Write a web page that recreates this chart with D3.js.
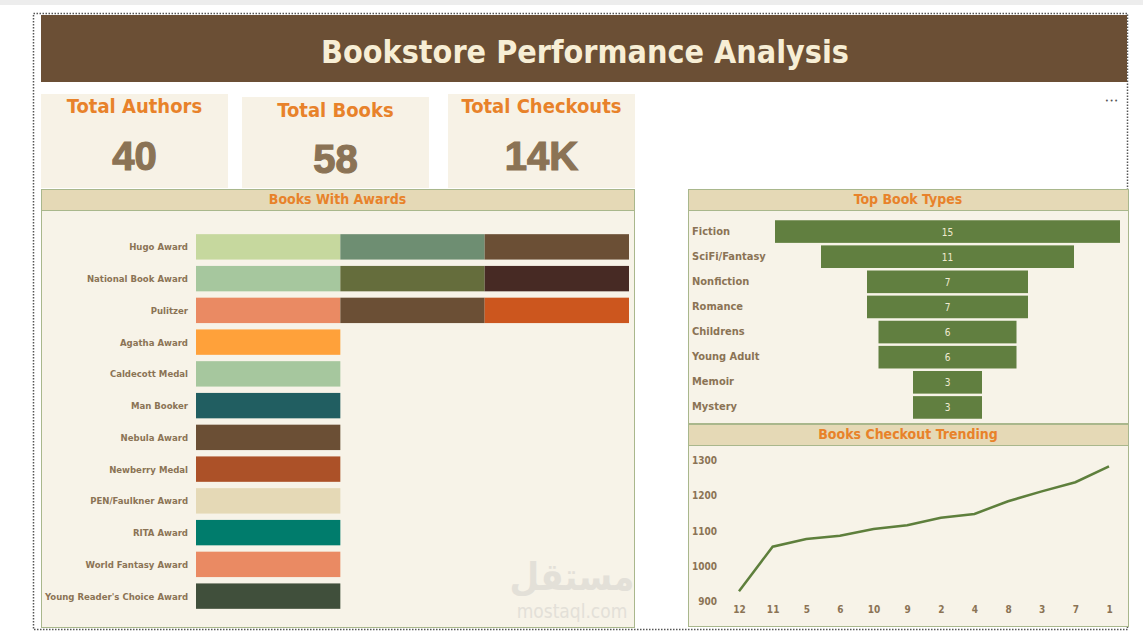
<!DOCTYPE html>
<html>
<head>
<meta charset="utf-8">
<script src="https://cdn.jsdelivr.net/npm/d3@7"></script>
<style>
  body { margin: 0; background: #fff; }
  svg text { font-family: "DejaVu Sans Condensed", "DejaVu Sans", sans-serif; }
</style>
</head>
<body>
<svg id="vis" width="1143" height="635"></svg>
<script>
// kpi cards
var kpiTitles = ["Total Authors", "Total Books", "Total Checkouts"];
var kpiValues = ["40", "58", "14K"];

// books with awards (one segment per book)
var awards = ["Hugo Award", "National Book Award", "Pulitzer", "Agatha Award", "Caldecott Medal",
  "Man Booker", "Nebula Award", "Newberry Medal", "PEN/Faulkner Award", "RITA Award",
  "World Fantasy Award", "Young Reader's Choice Award"];
var awardBooks = [3, 3, 3, 1, 1, 1, 1, 1, 1, 1, 1, 1];
var awardColors = [
  ["#C6D89E", "#6E8E72", "#6B4F35"],
  ["#A6C79E", "#656D3C", "#472A24"],
  ["#EA8A63", "#6B4F35", "#CC561E"],
  ["#FFA13A"], ["#A6C79E"], ["#215E61"], ["#6B4F35"], ["#AC5128"],
  ["#E5D9B6"], ["#007C6C"], ["#EA8A63"], ["#404F3B"]
];

// top book types
var bookTypes = ["Fiction", "SciFi/Fantasy", "Nonfiction", "Romance", "Childrens", "Young Adult", "Memoir", "Mystery"];
var typeCounts = [15, 11, 7, 7, 6, 6, 3, 3];

// checkout trend
var months = ["12", "11", "5", "6", "10", "9", "2", "4", "8", "3", "7", "1"];
var checkouts = [928, 1054, 1076, 1085, 1104, 1115, 1136, 1147, 1183, 1211, 1237, 1282];
var yTicks = [900, 1000, 1100, 1200, 1300];

var brown = "#6B4F35", cream = "#F7F3E8", beige = "#E5D9B6", orange = "#E8822A",
    labelColor = "#8B7355", panelLine = "#A9B78C", green = "#617F40";

var vis = d3.select("#vis");

// top strip + dotted frame
vis.append("rect").attr("x", 0).attr("y", 0).attr("width", 1143).attr("height", 5).style("fill", "#EDEDED");
vis.append("rect").attr("x", 33.5).attr("y", 13.5).attr("width", 1094).attr("height", 616)
  .style("fill", "none").style("stroke", "#555").style("stroke-width", 1.5).style("stroke-dasharray", "1.5,1.5");

// title bar
vis.append("rect").attr("x", 41).attr("y", 15).attr("width", 1086).attr("height", 67).style("fill", brown);
vis.append("text").attr("x", 585).attr("y", 63).attr("text-anchor", "middle")
  .style("font-size", "32px").style("font-weight", "bold").style("fill", "#F7EED5")
  .text("Bookstore Performance Analysis");

// more options dots
vis.append("text").attr("x", 1112).attr("y", 103).attr("text-anchor", "middle")
  .style("fill", "#555").text("•••").style("letter-spacing", "1px").style("font-size", "7px");

// kpi cards
var cardX = [41, 242, 448], cardY = [94, 97, 94], cardW = 187;
kpiTitles.forEach(function(t, i) {
  var g = vis.append("g").attr("transform", "translate(" + cardX[i] + "," + cardY[i] + ")");
  g.append("rect").attr("width", cardW).attr("height", 188 - cardY[i]).style("fill", "#F7F2E6");
  g.append("text").attr("x", cardW / 2).attr("y", (i == 1 ? 117 : 113) - cardY[i]).attr("text-anchor", "middle")
    .style("font-size", "20px").style("font-weight", "bold").style("fill", orange).text(t);
  g.append("text").attr("x", cardW / 2).attr("y", (i == 1 ? 173 : 170) - cardY[i]).attr("text-anchor", "middle")
    .style("font-family", "'Liberation Sans', Arial, sans-serif")
    .style("font-size", "40px").style("font-weight", "900").style("fill", labelColor)
    .style("stroke", labelColor).style("stroke-width", 1.2).text(kpiValues[i]);
});

function panel(x, y, w, h, title) {
  var g = vis.append("g");
  g.append("rect").attr("x", x + 0.5).attr("y", y + 0.5).attr("width", w).attr("height", h)
    .style("fill", cream).style("stroke", panelLine);
  g.append("rect").attr("x", x + 0.5).attr("y", y + 0.5).attr("width", w).attr("height", 21)
    .style("fill", beige).style("stroke", panelLine);
  g.append("text").attr("x", x + w / 2).attr("y", y + 15).attr("text-anchor", "middle")
    .style("font-size", "14px").style("font-weight", "bold").style("fill", orange).text(title);
  return g;
}

// ---- Books With Awards ----
panel(41, 189, 593, 438, "Books With Awards");

var xA = d3.scaleLinear().domain([0, 3]).range([196, 629]);
var yA = d3.scaleBand().domain(awards).range([231, 612]).paddingInner(0.2).paddingOuter(0.1);

var segs = [];
awards.forEach(function(a, i) {
  for (var k = 0; k < awardBooks[i]; k++) segs.push({award: a, k: k, color: awardColors[i][k]});
});

vis.append("g").selectAll("rect").data(segs).enter().append("rect")
  .attr("x", function(d) { return xA(d.k); })
  .attr("y", function(d) { return yA(d.award); })
  .attr("width", function(d) { return xA(d.k + 1) - xA(d.k); })
  .attr("height", yA.bandwidth())
  .style("fill", function(d) { return d.color; });

vis.append("g").selectAll("text").data(awards).enter().append("text")
  .attr("x", 188).attr("y", function(d) { return yA(d) + yA.bandwidth() / 2 + 3.5; })
  .attr("text-anchor", "end")
  .style("font-size", "9.5px").style("font-weight", "bold").style("fill", labelColor)
  .text(function(d) { return d; });

// watermark
vis.append("text").attr("x", 572).attr("y", 590).attr("text-anchor", "middle")
  .style("font-size", "38px").style("font-weight", "bold").style("fill", "#E3E0D8").text("مستقل");
vis.append("text").attr("x", 572).attr("y", 618).attr("text-anchor", "middle")
  .style("font-size", "19px").style("fill", "#E3E0D8").text("mostaql.com");

// ---- Top Book Types (funnel) ----
panel(688, 189, 440, 234, "Top Book Types");

var yF = d3.scaleBand().domain(bookTypes).range([219, 420]).paddingInner(0.1).paddingOuter(0.05);
var wF = d3.scaleLinear().domain([0, 15]).range([0, 345]);
var cx = 947.5;

vis.append("g").selectAll("rect").data(typeCounts).enter().append("rect")
  .attr("x", function(d) { return cx - wF(d) / 2; })
  .attr("y", function(d, i) { return yF(bookTypes[i]); })
  .attr("width", function(d) { return wF(d); })
  .attr("height", yF.bandwidth())
  .style("fill", green);

vis.append("g").selectAll("text").data(typeCounts).enter().append("text")
  .attr("x", cx).attr("y", function(d, i) { return yF(bookTypes[i]) + yF.bandwidth() / 2 + 4; })
  .attr("text-anchor", "middle")
  .style("font-size", "10px").style("fill", "#F0EAD0")
  .text(function(d) { return d; });

vis.append("g").selectAll("text").data(bookTypes).enter().append("text")
  .attr("x", 692).attr("y", function(d) { return yF(d) + yF.bandwidth() / 2 + 3; })
  .style("font-size", "11px").style("font-weight", "bold").style("fill", labelColor)
  .text(function(d) { return d; });

// ---- Books Checkout Trending ----
panel(688, 424, 440, 202, "Books Checkout Trending");

var xL = d3.scalePoint().domain(months).range([739, 1109]);
var yL = d3.scaleLinear().domain([900, 1300]).range([601, 460]);

var yAxis = vis.append("g").attr("transform", "translate(717,0)")
  .call(d3.axisLeft(yL).tickValues(yTicks).tickFormat(d3.format("d")).tickSize(0).tickPadding(0));
var xAxis = vis.append("g").attr("transform", "translate(0,606)")
  .call(d3.axisBottom(xL).tickSize(0).tickPadding(0));
[yAxis, xAxis].forEach(function(ax) {
  ax.select(".domain").remove();
  ax.selectAll("text").style("font-size", "10px").style("font-weight", "bold")
    .style("fill", labelColor).style("font-family", "'DejaVu Sans Condensed', sans-serif");
});
yAxis.selectAll("text").attr("dy", "0.35em");
xAxis.selectAll("text").attr("dy", "0.71em");

var line = d3.line()
  .x(function(d, i) { return xL(months[i]); })
  .y(function(d) { return yL(d); });

vis.append("path").datum(checkouts).attr("d", line)
  .style("fill", "none").style("stroke", "#5E7F3C").style("stroke-width", 2.5);
</script>
</body>
</html>
